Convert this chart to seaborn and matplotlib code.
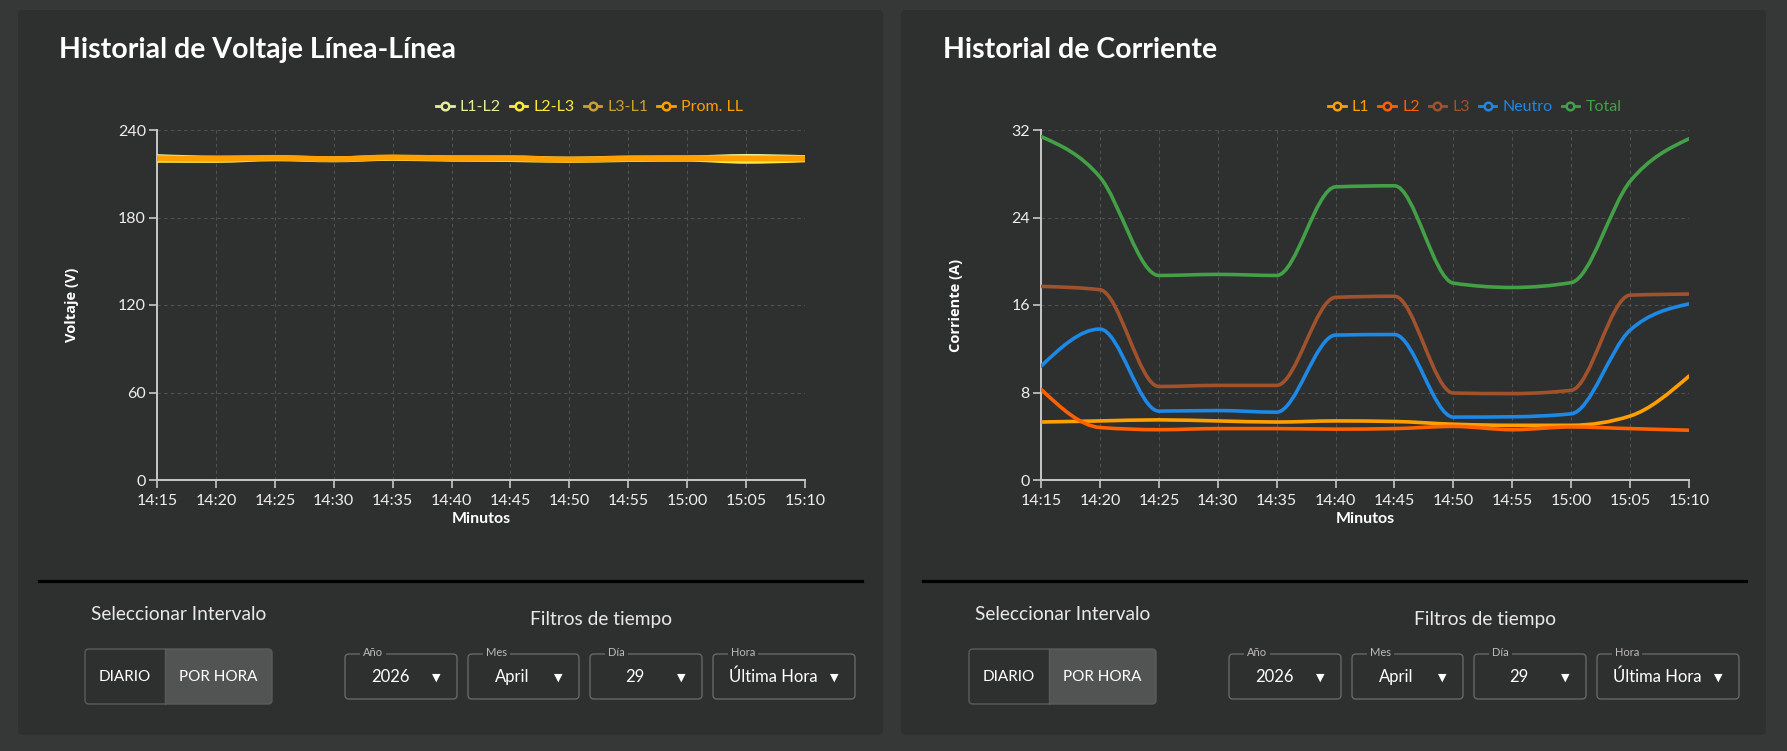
import numpy as np
import pandas as pd
import seaborn as sns
import matplotlib.pyplot as plt
import matplotlib.transforms as mtransforms
from matplotlib.patches import FancyBboxPatch, PathPatch, Rectangle
from matplotlib.path import Path
from matplotlib.lines import Line2D

# ---- data ----
minutes = ['14:15', '14:20', '14:25', '14:30', '14:35', '14:40',
           '14:45', '14:50', '14:55', '15:00', '15:05', '15:10']

v_l1l2 = [222.5, 221.5, 221.6, 221.0, 222.0, 221.6, 221.6, 220.8, 221.5, 221.6, 222.6, 221.8]
v_l2l3 = [218.5, 218.4, 219.5, 218.8, 219.8, 219.2, 219.0, 218.4, 219.0, 219.2, 217.8, 218.8]
v_l3l1 = [220.8, 220.6, 221.5, 220.3, 221.8, 221.0, 220.8, 220.0, 220.8, 221.0, 221.0, 220.6]
v_prom = [220.6, 220.2, 220.9, 220.0, 221.2, 220.6, 220.5, 219.7, 220.4, 220.6, 220.5, 220.4]

i_l1 = [5.3, 5.4, 5.5, 5.4, 5.3, 5.4, 5.35, 5.1, 5.0, 5.0, 5.85, 9.5]
i_l2 = [8.3, 4.8, 4.6, 4.7, 4.7, 4.65, 4.7, 4.9, 4.6, 4.85, 4.7, 4.55]
i_l3 = [17.7, 17.4, 8.55, 8.65, 8.65, 16.7, 16.8, 7.95, 7.9, 8.2, 16.9, 17.0]
i_neutro = [10.4, 13.8, 6.3, 6.35, 6.2, 13.25, 13.3, 5.75, 5.78, 6.05, 13.7, 16.1]
i_total = [31.4, 27.7, 18.7, 18.8, 18.7, 26.8, 26.9, 18.0, 17.6, 18.05, 27.3, 31.2]

volt_names = ['L1-L2', 'L2-L3', 'L3-L1', 'Prom. LL']
volt_colors = ['#e6ee9c', '#ffeb3b', '#c9a22e', '#ff9f00']
volt_values = [v_l1l2, v_l2l3, v_l3l1, v_prom]

curr_names = ['L1', 'L2', 'L3', 'Neutro', 'Total']
curr_colors = ['#ffa000', '#ff6000', '#a0522d', '#1e88e5', '#43a047']
curr_values = [i_l1, i_l2, i_l3, i_neutro, i_total]

filters = [('Año', '2026'), ('Mes', 'April'), ('Día', '29'), ('Hora', 'Última Hora')]

BG = '#363737'
CARD = '#2e2f2f'
W, H = 1787, 751

plt.rcParams['font.family'] = ['Lato', 'DejaVu Sans']

fig = plt.figure(figsize=(W / 100, H / 100), dpi=100, facecolor=BG)
# pixel coords, origin top-left
px = mtransforms.Affine2D().scale(1 / W, -1 / H).translate(0, 1) + fig.transFigure

t = [int(s[:2]) * 60 + int(s[3:]) for s in minutes]


def long_df(names, values):
    rows = []
    for n, vals in zip(names, values):
        for x, v in zip(t, vals):
            rows.append({'t': x, 'v': v, 'serie': n})
    return pd.DataFrame(rows)


def monotone_path(x, y):
    # d3 curveMonotoneX style bezier through the data points
    x = np.asarray(x, float)
    y = np.asarray(y, float)
    h = np.diff(x)
    s = np.diff(y) / h
    tg = np.zeros_like(y)
    for i in range(1, len(y) - 1):
        p = (s[i - 1] * h[i] + s[i] * h[i - 1]) / (h[i - 1] + h[i])
        sg = (1 if s[i - 1] >= 0 else -1) + (1 if s[i] >= 0 else -1)
        tg[i] = sg * min(abs(s[i - 1]), abs(s[i]), 0.5 * abs(p))
    tg[0] = (3 * s[0] - tg[1]) / 2
    tg[-1] = (3 * s[-1] - tg[-2]) / 2
    verts = [(x[0], y[0])]
    codes = [Path.MOVETO]
    for i in range(len(x) - 1):
        d = h[i] / 3
        verts += [(x[i] + d, y[i] + d * tg[i]), (x[i + 1] - d, y[i + 1] - d * tg[i + 1]),
                  (x[i + 1], y[i + 1])]
        codes += [Path.CURVE4] * 3
    return Path(verts, codes)


def card(off):
    fig.add_artist(FancyBboxPatch((18 + off, 10), 865, 725, boxstyle='round,pad=0,rounding_size=5',
                                  transform=px, facecolor=CARD, edgecolor='none', zorder=0))


def chart(off, title, names, colors, values, ylim, yticks, ylabel, widths, leg_x):
    fig.text(59 + off, 50, title, transform=px, size=20.5, weight='bold', color='white',
             va='center', ha='left')
    ax = fig.add_axes([(157 + off) / W, 1 - 480 / H, 648 / W, 350 / H])
    ax.set_facecolor(CARD)
    df = long_df(names, values)
    sns.lineplot(data=df, x='t', y='v', hue='serie', hue_order=names,
                 palette=dict(zip(names, colors)), ax=ax, legend=False, linewidth=2.5)
    for line, lw in zip(list(ax.lines), widths):
        xd, yd = line.get_data()
        patch = PathPatch(monotone_path(xd, yd), fill=False, edgecolor=line.get_color(), lw=lw,
                          capstyle='round', joinstyle='round', zorder=3)
        ax.add_patch(patch)
        line.set_visible(False)
    ax.set_xlim(t[0], t[-1])
    ax.set_ylim(*ylim)
    ax.set_xticks(t)
    ax.set_xticklabels(minutes)
    ax.set_yticks(yticks)
    ax.set_xlabel('')
    ax.set_ylabel('')
    for sp in ['top', 'right']:
        ax.spines[sp].set_visible(False)
    for sp in ['left', 'bottom']:
        ax.spines[sp].set_color('#c8c8c8')
        ax.spines[sp].set_linewidth(1.4)
    ax.grid(True, color='#505151', linestyle=(0, (3, 3)), linewidth=0.8)
    ax.set_axisbelow(True)
    ax.tick_params(axis='both', colors='#c8c8c8', labelcolor='#eeeeee', length=6, width=1.2,
                   labelsize=11.5)
    ax.tick_params(axis='x', pad=4)
    ax.tick_params(axis='y', pad=2)
    fig.text(72 + off, 305, ylabel, transform=px, rotation=90, size=10.5, weight='bold',
             family=['Open Sans', 'DejaVu Sans'], color='white', ha='center', va='center')
    fig.text(481 + off, 519, 'Minutos', transform=px, size=11.5, weight='bold', color='white',
             ha='center', va='center')
    handles = [Line2D([0], [0], color=c, lw=2, marker='o', markersize=5.5,
                      markerfacecolor=CARD, markeredgewidth=1.8) for c in colors]
    leg = ax.legend(handles, names, loc='center left', bbox_to_anchor=(leg_x + off, 107),
                    bbox_transform=px, ncol=len(names), frameon=False, fontsize=11.5,
                    handlelength=1.1, handletextpad=0.4, columnspacing=0.55, borderpad=0)
    for txt, c in zip(leg.get_texts(), colors):
        txt.set_color(c)
    return ax


def controls(off):
    fig.add_artist(Line2D([39 + off, 862 + off], [581, 581], transform=px, color='black', lw=2.3))
    fig.text(179 + off, 615, 'Seleccionar Intervalo', transform=px, size=13.8, color='#e8e8e8',
             ha='center', va='center')
    fig.text(601 + off, 620, 'Filtros de tiempo', transform=px, size=13.8, color='#e8e8e8',
             ha='center', va='center')
    # toggle buttons
    fig.add_artist(FancyBboxPatch((165 + off, 649), 107, 55, boxstyle='round,pad=0,rounding_size=4',
                                  transform=px, facecolor='#525353', edgecolor='none', zorder=1))
    fig.add_artist(Rectangle((165 + off, 649), 8, 55, transform=px, facecolor='#525353',
                             edgecolor='none', zorder=1))
    fig.add_artist(FancyBboxPatch((85 + off, 649), 187, 55, boxstyle='round,pad=0,rounding_size=4',
                                  transform=px, facecolor='none', edgecolor='#5a5b5b', lw=1, zorder=2))
    fig.add_artist(Line2D([165 + off, 165 + off], [649, 704], transform=px, color='#5a5b5b', lw=1))
    fig.text(125 + off, 677, 'DIARIO', transform=px, size=11, color='white', ha='center', va='center')
    fig.text(218 + off, 677, 'POR HORA', transform=px, size=11, color='white', ha='center', va='center')
    # dropdowns
    boxes = [(345, 457), (468, 579), (590, 702), (713, 855)]
    for (lab, val), (l, r) in zip(filters, boxes):
        fig.add_artist(FancyBboxPatch((l + off, 654), r - l, 45, boxstyle='round,pad=0,rounding_size=4',
                                      transform=px, facecolor='none', edgecolor='#666767', lw=1, zorder=2))
        fig.text(l + 18 + off, 653, lab, transform=px, size=8, color='#bbbbbb', ha='left', va='center',
                 zorder=4, bbox=dict(facecolor=CARD, edgecolor='none', pad=2))
        fig.text((l + r - 22) / 2 + off, 677, val, transform=px, size=12, color='white',
                 ha='center', va='center')
        fig.text(r - 21 + off, 678, '▼', transform=px, size=8, color='white', ha='center',
                 va='center', family=['DejaVu Sans'])


for off in (0, 884):
    card(off - (1 if off else 0))

chart(0, 'Historial de Voltaje Línea-Línea', volt_names, volt_colors, volt_values,
      (0, 240), [0, 60, 120, 180, 240], 'Voltaje (V)', [2, 2, 2, 4.2], 428)
chart(884, 'Historial de Corriente', curr_names, curr_colors, curr_values,
      (0, 32), [0, 8, 16, 24, 32], 'Corriente (A)', [2.6, 2.6, 2.6, 2.6, 2.6], 436)
controls(0)
controls(884)

fig.savefig('out.png', dpi=100, facecolor=BG)
